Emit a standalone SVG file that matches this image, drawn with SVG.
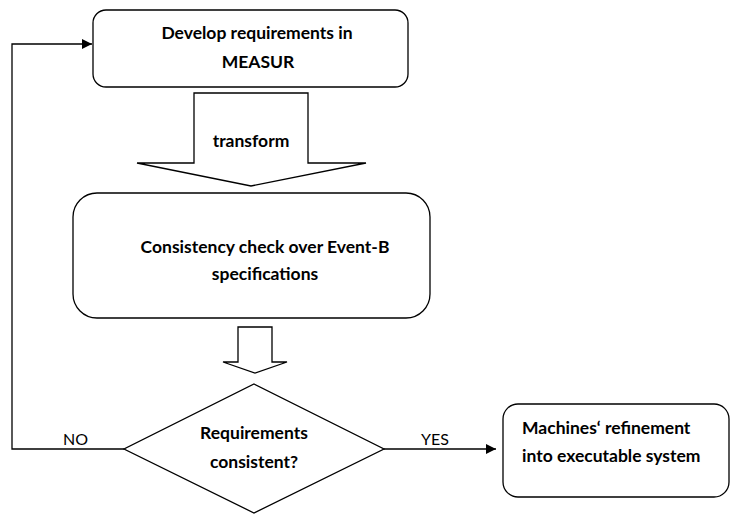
<svg xmlns="http://www.w3.org/2000/svg" width="730" height="515" viewBox="0 0 730 515">
  <style>
    .box { fill: #ffffff; stroke: #000000; stroke-width: 1.3; }
    .block { fill: #ffffff; stroke: #000000; stroke-width: 1.3; stroke-linejoin: miter; }
    .line { fill: none; stroke: #000000; stroke-width: 1.3; }
    .t { font-family: Lato, "Open Sans", "Liberation Sans", sans-serif; font-size: 16px; fill: #000000; }
    .b { font-weight: bold; font-size: 17.5px; }
    .mid { text-anchor: middle; }
  </style>
  <defs>
    <marker id="arrow" viewBox="0 0 10 10" refX="10" refY="5" markerWidth="10" markerHeight="10" markerUnits="userSpaceOnUse" orient="auto">
      <path d="M0,0 L10,5 L0,10 Z" fill="#000000"/>
    </marker>
  </defs>
  <rect width="730" height="515" fill="#ffffff"/>

  <!-- connectors -->
  <g id="connectors">
    <path class="line" d="M124,449 H12 V44 H92" marker-end="url(#arrow)"/>
    <path class="line" d="M384,449 H496" marker-end="url(#arrow)"/>
    <text class="t" x="63" y="445">NO</text>
    <text class="t" x="421" y="445">YES</text>
  </g>

  <!-- requirements box -->
  <g id="develop">
    <rect class="box" x="93" y="10" width="315" height="77" rx="13" ry="13"/>
    <text class="t b mid" x="257" y="39">Develop requirements in</text>
    <text class="t b mid" x="258" y="68">MEASUR</text>
  </g>

  <!-- transform block arrow -->
  <g id="transform">
    <path class="block" d="M194,93 H308 V163 H366 L251,186 L137,163 H194 Z"/>
    <text class="t b mid" x="251" y="147">transform</text>
  </g>

  <!-- consistency check box -->
  <g id="consistency">
    <rect class="box" x="73" y="193" width="357" height="125" rx="24" ry="24"/>
    <text class="t b mid" x="265" y="253">Consistency check over Event-B</text>
    <text class="t b mid" x="265" y="280">specifications</text>
  </g>

  <!-- small block arrow -->
  <g id="down-arrow">
    <path class="block" d="M238,327 H272 V362 H287 L255,373 L223,362 H238 Z"/>
  </g>

  <!-- decision -->
  <g id="decision">
    <path class="box" d="M254,384 L384,449 L254,513 L124,449 Z"/>
    <text class="t b mid" x="254" y="439">Requirements</text>
    <text class="t b mid" x="254" y="468">consistent?</text>
  </g>

  <!-- refinement box -->
  <g id="refinement">
    <rect class="box" x="503" y="404" width="226" height="93" rx="15" ry="15"/>
    <text class="t b" x="522" y="434">Machines‘ refinement</text>
    <text class="t b" x="522" y="462">into executable system</text>
  </g>
</svg>
